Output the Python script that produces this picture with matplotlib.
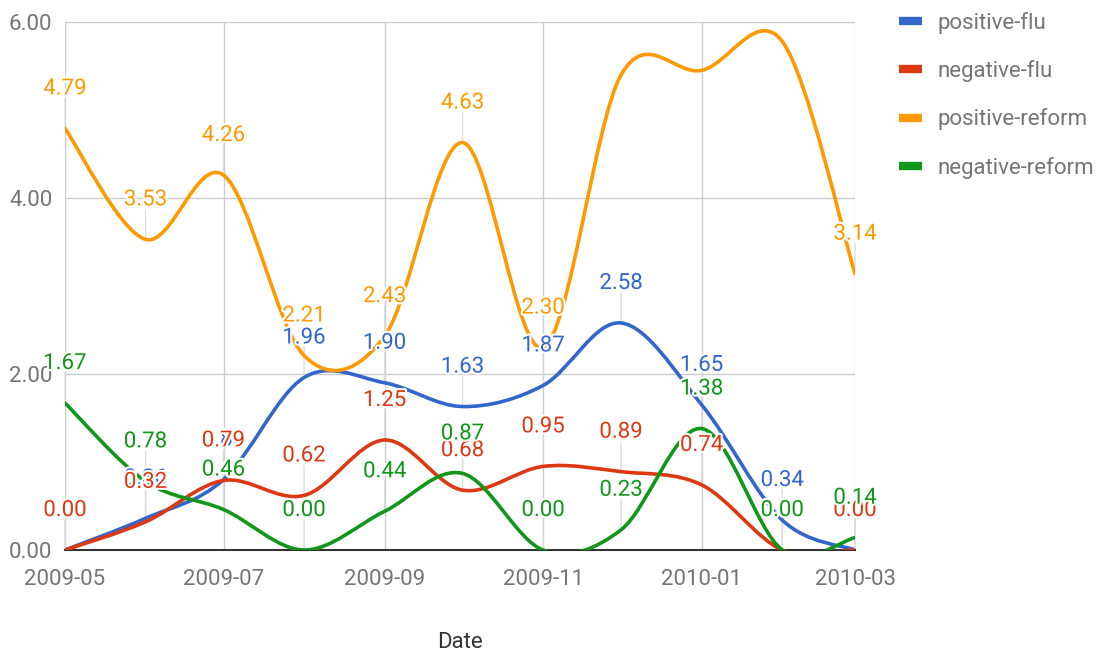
import numpy as np
import matplotlib
matplotlib.use("Agg")
import matplotlib.pyplot as plt
import matplotlib.dates as mdates
import matplotlib.patheffects as pe
from matplotlib.path import Path
from matplotlib.patches import PathPatch
from matplotlib.lines import Line2D
from datetime import date

plt.rcParams['font.family'] = ['Roboto', 'DejaVu Sans']

# Data (monthly values)
months = ['2009-05', '2009-06', '2009-07', '2009-08', '2009-09', '2009-10',
          '2009-11', '2009-12', '2010-01', '2010-02', '2010-03']
positive_flu = [0.00, 0.36, 0.80, 1.96, 1.90, 1.63, 1.87, 2.58, 1.65, 0.34, 0.00]
negative_flu = [0.00, 0.32, 0.79, 0.62, 1.25, 0.68, 0.95, 0.89, 0.74, 0.00, 0.00]
positive_reform = [4.79, 3.53, 4.26, 2.21, 2.43, 4.63, 2.30, 5.40, 5.45, 5.78, 3.14]
negative_reform = [1.67, 0.78, 0.46, 0.00, 0.44, 0.87, 0.00, 0.23, 1.38, 0.00, 0.14]

series_names = ['positive-flu', 'negative-flu', 'positive-reform', 'negative-reform']
series_values = [positive_flu, negative_flu, positive_reform, negative_reform]
colors = ['#3366cc', '#dc3912', '#ff9900', '#109618']

tick_months = ['2009-05', '2009-07', '2009-09', '2009-11', '2010-01', '2010-03']
y_ticks = [0, 2, 4, 6]


def to_num(m):
    y, mo = m.split('-')
    return mdates.date2num(date(int(y), int(mo), 1))


def smooth_path(xs, ys):
    # Catmull-Rom style cubic bezier through the points (like curveType 'function')
    pts = np.column_stack([xs, ys])
    n = len(pts)
    verts = [pts[0]]
    codes = [Path.MOVETO]
    for i in range(n - 1):
        p_prev = pts[max(i - 1, 0)]
        p_next2 = pts[min(i + 2, n - 1)]
        c1 = pts[i] + (pts[i + 1] - p_prev) / 6
        c2 = pts[i + 1] - (p_next2 - pts[i]) / 6
        verts += [c1, c2, pts[i + 1]]
        codes += [Path.CURVE4] * 3
    return Path(verts, codes)


x = np.array([to_num(m) for m in months])

fig = plt.figure(figsize=(11.1, 6.54), dpi=100)
ax = fig.add_axes([65 / 1110, 1 - 550 / 654, 790 / 1110, 528 / 654])

# Lines
for vals, color in zip(series_values, colors):
    patch = PathPatch(smooth_path(x, vals), fill=False, edgecolor=color,
                      lw=2.6, capstyle='round', joinstyle='round', zorder=3)
    ax.add_patch(patch)

# Annotation stems and labels
for vals, color in zip(series_values, colors):
    for xi, v in zip(x, vals):
        if v > 5.2:
            continue  # label would fall outside the chart area
        ax.annotate('', xy=(xi, v), xytext=(0, 30), textcoords='offset pixels',
                    arrowprops=dict(arrowstyle='-', color='#dddddd', lw=1,
                                    shrinkA=0, shrinkB=0),
                    zorder=1, annotation_clip=False)
for k, (vals, color) in enumerate(zip(series_values, colors)):
    for xi, v in zip(x, vals):
        if v > 5.2:
            continue
        ax.annotate(f'{v:.2f}', xy=(xi, v), xytext=(0, 34), textcoords='offset pixels',
                    ha='center', va='baseline', color=color, fontsize=16,
                    path_effects=[pe.withStroke(linewidth=3, foreground='white')],
                    zorder=5 + k, annotation_clip=False)

# Axes styling
ax.set_xlim(to_num('2009-05'), to_num('2010-03'))
ax.set_ylim(0, 6)
ax.set_xticks([to_num(m) for m in tick_months])
ax.set_xticklabels(tick_months)
ax.set_yticks(y_ticks)
ax.set_yticklabels([f'{t:.2f}' for t in y_ticks])
ax.grid(True, color='#cccccc', lw=1, zorder=0)
ax.set_axisbelow(True)
for s in ['left', 'right', 'top']:
    ax.spines[s].set_visible(False)
ax.spines['bottom'].set_color('#333333')
ax.spines['bottom'].set_linewidth(1.5)
ax.spines['bottom'].set_zorder(2)
ax.tick_params(axis='both', length=0, labelsize=16, labelcolor='#757575')
ax.tick_params(axis='x', pad=14)
ax.tick_params(axis='y', pad=9)
ax.set_xlabel('Date', fontsize=16, color='#333333', labelpad=30)

# Legend
handles = [Line2D([0], [0], color=c, lw=6, solid_capstyle='butt') for c in colors]
leg = fig.legend(handles, series_names, loc='upper left',
                 bbox_to_anchor=(899 / 1110, 1 - 12 / 654), frameon=False,
                 fontsize=16, handlelength=1.05, handletextpad=0.7,
                 labelspacing=1.18, borderaxespad=0, borderpad=0)
for t in leg.get_texts():
    t.set_color('#757575')

fig.savefig('out.png', dpi=100)
